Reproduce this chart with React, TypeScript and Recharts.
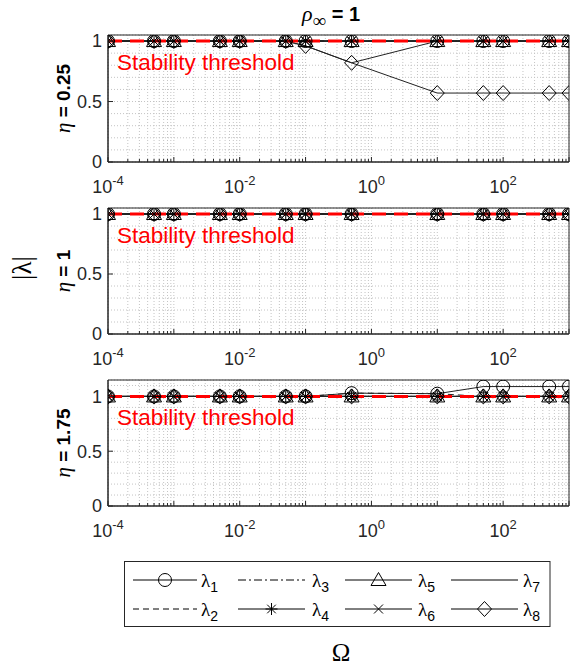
import React from 'react';
import {
  LineChart,
  Line,
  XAxis,
  YAxis,
  CartesianGrid,
  ReferenceLine,
  ReferenceArea,
} from 'recharts';

// Ω sample points (log axis)
const omega = [1e-4, 5e-4, 1e-3, 5e-3, 1e-2, 5e-2, 0.1, 0.5, 10, 50, 100, 500, 1000];

// |λ|
const unitModulus = [1, 1, 1, 1, 1, 1, 1, 1, 1, 1, 1, 1, 1];
const eta025Lambda7 = [1, 1, 1, 1, 1, 1, 0.96, 0.82, 1, 1, 1, 1, 1];
const eta025Lambda8 = [1, 1, 1, 1, 1, 1, 0.96, 0.82, 0.57, 0.57, 0.57, 0.57, 0.57];
const eta175Lambda1 = [1, 1, 1, 1, 1, 1, 1, 1.03, 1.025, 1.09, 1.09, 1.09, 1.09];
const eta175Lambda2 = [1, 1, 1, 1, 1, 1, 1, 1.03, 1.025, 1, 1, 1, 1];

const stabilityLimit = 1;

// axis ticks
const xDecades = [1e-4, 1e-3, 1e-2, 1e-1, 1, 10, 100, 1000];
const xMinorFactors = [2, 3, 4, 5, 6, 7, 8, 9];
const xLabelTicks = [1e-4, 1e-2, 1, 100];
const xLabelExp = ['-4', '-2', '0', '2'];
const yTicksLow = [0, 0.1, 0.2, 0.3, 0.4, 0.5, 0.6, 0.7, 0.8, 0.9, 1];
const yTicksHigh = [0, 0.1, 0.2, 0.3, 0.4, 0.5, 0.6, 0.7, 0.8, 0.9, 1, 1.1];
const yLabelTicks = [0, 0.5, 1];

const xTicks = xDecades.flatMap((d) =>
  d === 1000 ? [d] : [d, ...xMinorFactors.map((m) => d * m)]
);

type MarkerKind = 'circle' | 'star' | 'triangle' | 'cross' | 'diamond' | 'none';

const seriesStyle: { key: string; marker: MarkerKind; dash?: string; sub: string }[] = [
  { key: 'l1', marker: 'circle', sub: '1' },
  { key: 'l2', marker: 'none', dash: '6 4', sub: '2' },
  { key: 'l3', marker: 'none', dash: '8 3 2 3', sub: '3' },
  { key: 'l4', marker: 'star', sub: '4' },
  { key: 'l5', marker: 'triangle', sub: '5' },
  { key: 'l6', marker: 'cross', sub: '6' },
  { key: 'l7', marker: 'none', sub: '7' },
  { key: 'l8', marker: 'diamond', sub: '8' },
];

const panels = [
  {
    eta: '0.25',
    top: 35,
    bottom: 162,
    yMax: 1.05,
    yTicks: yTicksLow,
    series: [unitModulus, unitModulus, unitModulus, unitModulus, unitModulus, unitModulus, eta025Lambda7, eta025Lambda8],
  },
  {
    eta: '1',
    top: 208,
    bottom: 334,
    yMax: 1.05,
    yTicks: yTicksLow,
    series: [unitModulus, unitModulus, unitModulus, unitModulus, unitModulus, unitModulus, unitModulus, unitModulus],
  },
  {
    eta: '1.75',
    top: 380,
    bottom: 506,
    yMax: 1.15,
    yTicks: yTicksHigh,
    series: [eta175Lambda1, eta175Lambda2, unitModulus, unitModulus, unitModulus, unitModulus, unitModulus, unitModulus],
  },
];

const INK = '#262626';
const SANS = '"Liberation Sans", Arial, Helvetica, sans-serif';
const SERIF = '"Liberation Serif", "Times New Roman", serif';
const W = 573;
const PLOT_LEFT = 108;
const PLOT_RIGHT = 569;
const CHART_H = 200;
const TOP_PAD = 35;

function Marker({ kind, cx, cy }: { kind: MarkerKind; cx: number; cy: number }) {
  const s = { stroke: '#000', strokeWidth: 1, fill: 'none' };
  switch (kind) {
    case 'circle':
      return <circle cx={cx} cy={cy} r={6.5} {...s} />;
    case 'triangle':
      return <polygon points={`${cx},${cy - 7.5} ${cx - 7.5},${cy + 5.5} ${cx + 7.5},${cy + 5.5}`} {...s} />;
    case 'diamond':
      return <polygon points={`${cx},${cy - 7.5} ${cx + 7},${cy} ${cx},${cy + 7.5} ${cx - 7},${cy}`} {...s} />;
    case 'cross':
      return (
        <path d={`M${cx - 4.5},${cy - 4.5}L${cx + 4.5},${cy + 4.5}M${cx - 4.5},${cy + 4.5}L${cx + 4.5},${cy - 4.5}`} {...s} />
      );
    case 'star':
      return (
        <path
          d={`M${cx},${cy - 6}L${cx},${cy + 6}M${cx - 6},${cy}L${cx + 6},${cy}M${cx - 4.3},${cy - 4.3}L${cx + 4.3},${cy + 4.3}M${cx - 4.3},${cy + 4.3}L${cx + 4.3},${cy - 4.3}`}
          {...s}
        />
      );
    default:
      return null;
  }
}

const XTick = (props: any) => {
  const { x, y, payload } = props;
  const v = payload?.value;
  const li = xLabelTicks.indexOf(v);
  const major = xDecades.includes(v);
  return (
    <g>
      <line x1={x} x2={x} y1={y} y2={y - (major ? 5 : 3)} stroke={INK} strokeWidth={1} />
      {li >= 0 && (
        <text x={x} y={y + 31} textAnchor="middle" fontFamily={SANS} fontSize={18} fill={INK}>
          10
          <tspan dy={-8} fontSize={13}>
            {xLabelExp[li]}
          </tspan>
        </text>
      )}
    </g>
  );
};

const YTick = (props: any) => {
  const { x, y, payload } = props;
  const v = payload?.value;
  const show = yLabelTicks.includes(v);
  return (
    <g>
      {show && <line x1={x} x2={x + 5} y1={y} y2={y} stroke={INK} strokeWidth={1} />}
      {show && (
        <text x={x - 6} y={y} dy="0.35em" textAnchor="end" fontFamily={SANS} fontSize={18} fill={INK}>
          {String(v)}
        </text>
      )}
    </g>
  );
};

const ThresholdLabel = (props: any) => {
  const vb = props.viewBox || {};
  return (
    <text x={(vb.x ?? PLOT_LEFT) + 9} y={(vb.y ?? 0) + 29} fill="#ff0000" fontFamily={SANS} fontSize={22.5}>
      Stability threshold
    </text>
  );
};

function Panel({ p }: { p: (typeof panels)[number] }) {
  const rows = omega.map((w, i) => {
    const r: Record<string, number> = { omega: w };
    seriesStyle.forEach((s, k) => {
      r[s.key] = p.series[k][i];
    });
    return r;
  });
  const plotH = p.bottom - p.top;
  const xAxisH = 30;
  return (
    <div style={{ position: 'absolute', left: 0, top: p.top - TOP_PAD }}>
      <LineChart
        width={W}
        height={CHART_H}
        data={rows}
        margin={{ top: TOP_PAD, right: W - PLOT_RIGHT, left: PLOT_LEFT - 60, bottom: CHART_H - TOP_PAD - plotH - xAxisH }}
      >
        <CartesianGrid stroke="#c4c4c4" strokeDasharray="1 2" />
        <XAxis
          dataKey="omega"
          type="number"
          scale="log"
          domain={[1e-4, 1000]}
          ticks={xTicks}
          interval={0}
          allowDataOverflow
          height={xAxisH}
          tick={<XTick />}
          tickLine={false}
          tickSize={0}
          tickMargin={0}
          stroke={INK}
        />
        <YAxis
          type="number"
          domain={[0, p.yMax]}
          ticks={p.yTicks}
          interval={0}
          allowDataOverflow
          width={60}
          tick={<YTick />}
          tickLine={false}
          tickSize={0}
          tickMargin={0}
          stroke={INK}
        />
        <ReferenceArea x1={1e-4} x2={1000} y1={0} y2={p.yMax} fill="none" stroke={INK} strokeWidth={1} ifOverflow="visible" />
        {seriesStyle.map((s) => (
          <Line
            key={s.key}
            dataKey={s.key}
            type="linear"
            stroke="#222"
            strokeWidth={1}
            strokeDasharray={s.dash}
            isAnimationActive={false}
            activeDot={false}
            dot={
              s.marker === 'none'
                ? false
                : (dp: any) => <Marker key={`${s.key}-${dp.index}`} kind={s.marker} cx={dp.cx} cy={dp.cy} />
            }
          />
        ))}
        <ReferenceLine
          y={stabilityLimit}
          stroke="#ff0000"
          strokeWidth={3}
          strokeDasharray="14 8"
          label={(lp: any) => <ThresholdLabel {...lp} />}
        />
      </LineChart>
    </div>
  );
}

const legendCols = [
  { x1: 133, x2: 197, lx: 201 },
  { x1: 238, x2: 305, lx: 312 },
  { x1: 345, x2: 412, lx: 418 },
  { x1: 451, x2: 518, lx: 523 },
];
const legendRows = [580, 609];

function Overlay() {
  return (
    <svg width={W} height={669} style={{ position: 'absolute', left: 0, top: 0, pointerEvents: 'none' }}>
      <text x={302} y={21} fill="#000">
        <tspan fontFamily={SERIF} fontStyle="italic" fontSize={22}>
          ρ
        </tspan>
        <tspan fontFamily={SERIF} fontSize={19} dy={6}>
          ∞
        </tspan>
        <tspan fontFamily={SANS} fontWeight="bold" fontSize={20} dy={-6}>
          {' = 1'}
        </tspan>
      </text>
      {panels.map((p) => {
        const cy = (p.top + p.bottom) / 2;
        return (
          <text
            key={p.eta}
            transform={`translate(64, ${cy}) rotate(-90)`}
            textAnchor="middle"
            dy="0.35em"
            fill="#000"
          >
            <tspan fontFamily={SERIF} fontStyle="italic" fontSize={21}>
              η
            </tspan>
            <tspan fontFamily={SANS} fontWeight="bold" fontSize={19}>
              {` = ${p.eta}`}
            </tspan>
          </text>
        );
      })}
      <text
        transform="translate(22, 268) rotate(-90)"
        textAnchor="middle"
        dy="0.35em"
        fontFamily={SERIF}
        fontSize={27}
        fill="#000"
      >
        |λ|
      </text>
      <rect x={124.5} y={561.5} width={425.5} height={65} fill="#fff" stroke={INK} strokeWidth={1} />
      {seriesStyle.map((s, i) => {
        const col = legendCols[Math.floor(i / 2)];
        const y = legendRows[i % 2];
        const mid = (col.x1 + col.x2) / 2;
        return (
          <g key={s.key}>
            <line x1={col.x1} x2={col.x2} y1={y} y2={y} stroke="#000" strokeWidth={1} strokeDasharray={s.dash} />
            <Marker kind={s.marker} cx={mid} cy={y} />
            <text x={col.lx} y={y + 7} fill="#000">
              <tspan fontFamily={SERIF} fontSize={19}>
                λ
              </tspan>
              <tspan fontFamily={SANS} fontSize={14} dy={5}>
                {s.sub}
              </tspan>
            </text>
          </g>
        );
      })}
      <text x={341} y={661} textAnchor="middle" fontFamily={SERIF} fontSize={25} fill="#000">
        Ω
      </text>
    </svg>
  );
}

export default function App() {
  return (
    <div
      style={{
        position: 'absolute',
        left: 0,
        top: 0,
        width: W,
        height: 669,
        background: '#fff',
        fontFamily: SANS,
        overflow: 'hidden',
      }}
    >
      {panels.map((p) => (
        <Panel key={p.eta} p={p} />
      ))}
      <Overlay />
    </div>
  );
}
